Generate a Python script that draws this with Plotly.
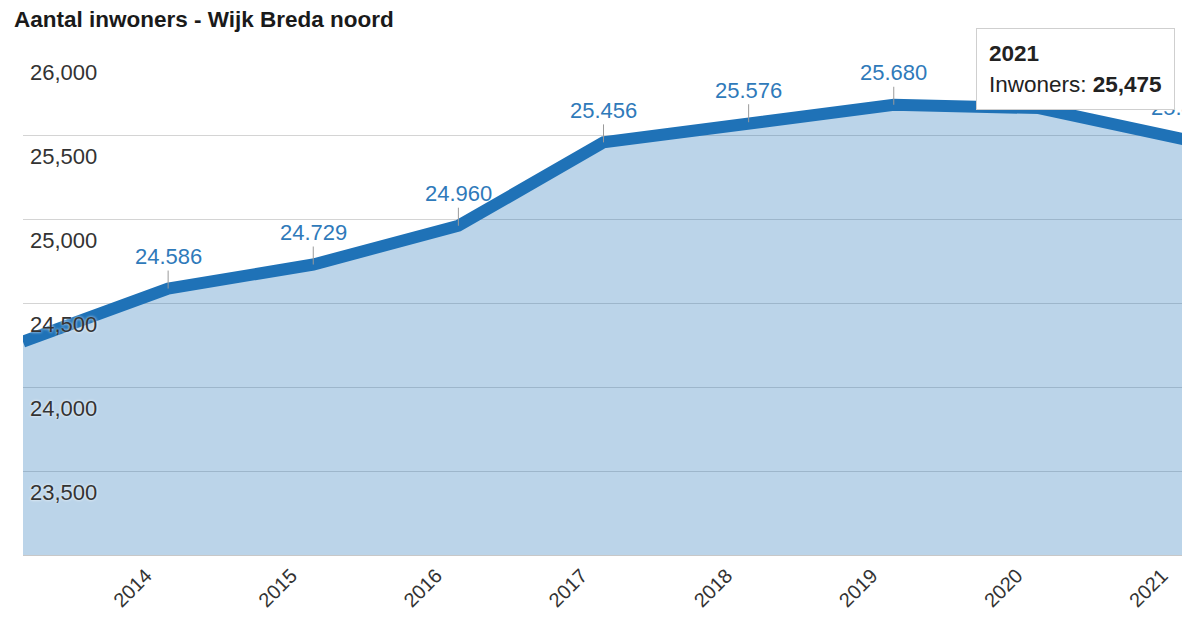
import plotly.graph_objects as go

years = [2013, 2014, 2015, 2016, 2017, 2018, 2019, 2020, 2021]
inwoners = [24270, 24586, 24729, 24960, 25456, 25576, 25680, 25660, 25475]
y_ticks = [23500, 24000, 24500, 25000, 25500, 26000]
title = "Aantal inwoners - Wijk Breda noord"
tooltip_year = 2021
tooltip_value = 25475

LINE = "rgb(31,114,183)"
FONT = "Liberation Sans, Arial, sans-serif"

fig = go.Figure()
fig.add_trace(go.Scatter(
    x=years, y=inwoners, mode="lines",
    line=dict(color=LINE, width=12),
    fill="tozeroy", fillcolor="rgba(31,114,183,0.30)",
    hoverinfo="skip",
))

annotations = []
for yr, v in zip(years[1:], inwoners[1:]):
    annotations.append(dict(
        x=yr, y=v, xref="x", yref="y",
        text=f"{v:,}".replace(",", "."),
        showarrow=True, arrowhead=0, arrowwidth=1, arrowcolor="#9a9a9a",
        ax=0, ay=-32, standoff=0,
        font=dict(family=FONT, size=22, color="rgb(47,122,186)"),
    ))

annotations.append(dict(
    xref="paper", yref="paper", x=0.9923, y=1.0456,
    xanchor="right", yanchor="top", showarrow=False, align="left",
    text=(f"<span style='font-size:22.5px'><b>{tooltip_year}</b></span><br>"
          f"<span style='font-size:22.5px'>Inwoners: <b>{tooltip_value:,}</b></span>"),
    font=dict(family=FONT, size=24, color="#222"),
    bgcolor="white", bordercolor="#cfcfcf", borderwidth=1, borderpad=12,
))

fig.update_layout(
    width=1190, height=618,
    template="none",
    paper_bgcolor="white", plot_bgcolor="white",
    margin=dict(l=15, r=14, t=43, b=71),
    showlegend=False,
    hovermode=False,
    title=dict(text=f"<b>{title}</b>", x=6/1190, xref="container", xanchor="left",
               y=1-11/618, yanchor="middle",
               font=dict(family=FONT, size=22.5, color="#1a1a1a")),
    annotations=annotations,
)
fig.update_xaxes(
    range=[years[0], years[-1]], tickvals=years, ticktext=[str(y) for y in years],
    tickangle=-45, ticklabelshift=-22,
    showgrid=False, zeroline=False, automargin=False,
    showline=True, linecolor="#c8c8c8", ticks="",
    tickfont=dict(family=FONT, size=20, color="#333"),
)
fig.update_yaxes(
    range=[23000, 26000], tickvals=y_ticks, tickformat=",",
    ticklabelposition="inside", ticklabelshift=21, ticklabelstandoff=4,
    showgrid=True, gridcolor="#d4d4d4", gridwidth=1, zeroline=False, automargin=False,
    ticks="", showline=False,
    tickfont=dict(family=FONT, size=22, color="#333", shadow="0px 0px 3px white"),
)

fig.write_html("out.html")
